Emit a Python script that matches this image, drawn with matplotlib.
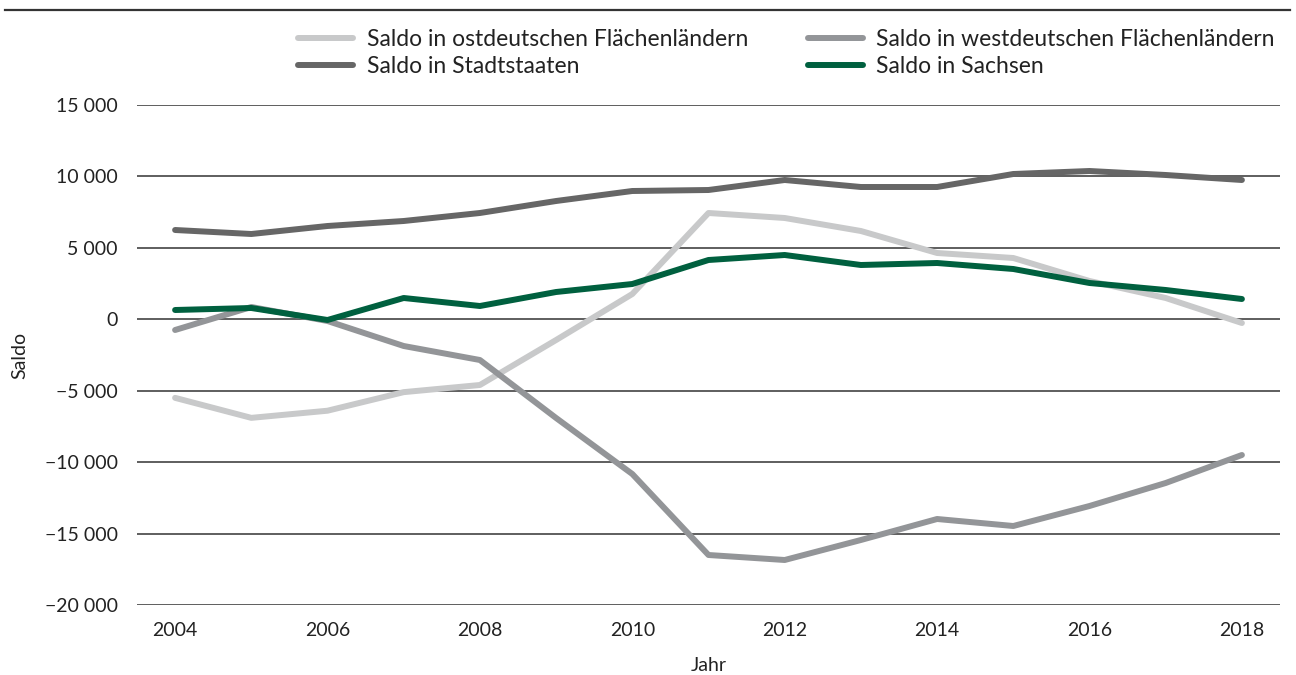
import matplotlib
matplotlib.use("Agg")
import matplotlib.pyplot as plt
from matplotlib.ticker import FuncFormatter
from matplotlib.lines import Line2D

years = list(range(2004, 2019))
ost = [-5500, -6900, -6400, -5100, -4600, -1450, 1770, 7440, 7090, 6180, 4640, 4290, 2680, 1490, -260]
west = [-750, 860, -120, -1870, -2850, -6910, -10830, -16500, -16850, -15450, -13980, -14470, -13070, -11460, -9500]
stadt = [6250, 5970, 6530, 6880, 7440, 8280, 8980, 9050, 9750, 9260, 9260, 10170, 10380, 10100, 9750]
sachsen = [650, 790, -50, 1490, 930, 1910, 2470, 4150, 4500, 3800, 3940, 3520, 2540, 2050, 1420]

labels = ["Saldo in ostdeutschen Flächenländern", "Saldo in westdeutschen Flächenländern",
          "Saldo in Stadtstaaten", "Saldo in Sachsen"]
colors = ["#c8c9ca", "#939598", "#666666", "#00603f"]
yticks = [15000, 10000, 5000, 0, -5000, -10000, -15000, -20000]
xticks = [2004, 2006, 2008, 2010, 2012, 2014, 2016, 2018]

plt.rcParams['font.family'] = ['Lato', 'DejaVu Sans']

fig = plt.figure(figsize=(12.96, 6.75), dpi=100)
ax = fig.add_axes([137/1296, 1-605/675, (1280-137)/1296, 500/675])

series = [ost, west, stadt, sachsen]
for vals, col, lab in zip(series, colors, labels):
    ax.plot(years, vals, color=col, lw=4.3, solid_capstyle='round', solid_joinstyle='round', label=lab, zorder=3)

ax.set_xlim(2003.5, 2018.5)
ax.set_ylim(-20000, 15000)
ax.set_yticks(yticks)
ax.set_xticks(xticks)
ax.yaxis.set_major_formatter(FuncFormatter(lambda v, p: ("\u2212" if v < 0 else "") + f"{abs(int(v)):,}".replace(",", " ")))
ax.grid(axis='y', color='#333333', lw=1.1, zorder=1)
ax.grid(axis='x', visible=False)
for s in ax.spines.values():
    s.set_visible(False)
ax.tick_params(axis='both', length=0, labelsize=14, colors='#222222')
ax.tick_params(axis='y', pad=14)
ax.tick_params(axis='x', pad=12)
ax.set_ylabel("Saldo", fontsize=14, color='#222222', labelpad=12)
ax.set_xlabel("Jahr", fontsize=14, color='#222222', labelpad=13)

# legend: column-major order
order = [0, 2, 1, 3]
leg_handles = [Line2D([0], [0], color=colors[i], lw=4.3, solid_capstyle='round') for i in order]
fig.legend(leg_handles, [labels[i] for i in order], ncol=2, frameon=False,
           loc='upper left', bbox_to_anchor=(298/1296, 1-29/675), fontsize=16.5,
           handlelength=2.4, handletextpad=0.6, columnspacing=2.6, labelspacing=0.28,
           borderaxespad=0, borderpad=0, labelcolor='#222222')

# top rule
fig.add_artist(Line2D([5/1296, 1290/1296], [1-10/675, 1-10/675], color='#333333', lw=1.6, transform=fig.transFigure))

fig.savefig("out.png", dpi=100)
